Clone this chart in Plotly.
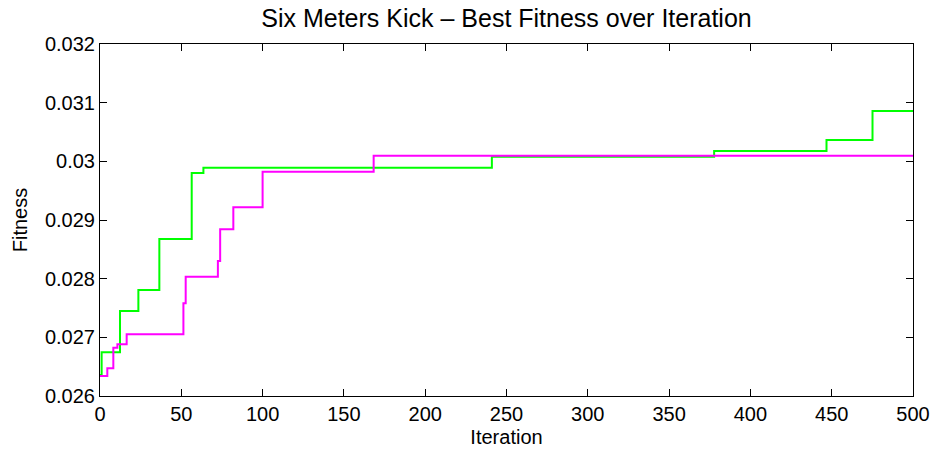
import plotly.graph_objects as go

# Data
green_iter = [0, 1, 12.3, 23.6, 36.5, 56.4, 63.6, 241, 377.7, 446.8, 475.1, 500]
green_fit = [0.02636, 0.026745, 0.027449, 0.027807, 0.028676, 0.029801, 0.02989,
             0.03008, 0.030175, 0.030363, 0.030857, 0.030857]

magenta_iter = [0, 4.5, 8.2, 10.7, 16.4, 51.3, 52.7, 72.5, 73.9, 82, 100, 168.3, 500]
magenta_fit = [0.026341, 0.026472, 0.026824, 0.026881, 0.027051, 0.02758, 0.028034,
               0.0283, 0.028841, 0.029216, 0.029823, 0.030096, 0.030096]

x_ticks = [0, 50, 100, 150, 200, 250, 300, 350, 400, 450, 500]
y_ticks = [0.026, 0.027, 0.028, 0.029, 0.03, 0.031, 0.032]
y_ticktext = ["0.026", "0.027", "0.028", "0.029", "0.03", "0.031", "0.032"]

font = "Liberation Sans, Arial, Helvetica, sans-serif"

fig = go.Figure()
fig.add_trace(go.Scatter(x=green_iter, y=green_fit, mode="lines", line_shape="hv",
                         line=dict(color="#00ff00", width=2), showlegend=False))
fig.add_trace(go.Scatter(x=magenta_iter, y=magenta_fit, mode="lines", line_shape="hv",
                         line=dict(color="#ff00ff", width=2), showlegend=False))

axis_common = dict(showline=True, linecolor="black", linewidth=1, mirror="ticks",
                   ticks="inside", ticklen=7, tickcolor="black", showgrid=False,
                   zeroline=False, ticklabeloverflow="allow",
                   tickfont=dict(family=font, size=20, color="black"))

W, H = 935, 454
fig.update_layout(
    width=W, height=H,
    margin=dict(l=100, r=22, t=44, b=58, autoexpand=False),
    paper_bgcolor="white", plot_bgcolor="white",
    title=dict(text="Six Meters Kick \u2013 Best Fitness over Iteration", x=0.5, xref="paper",
               xanchor="center", y=1 - 18.5 / H, yref="container", yanchor="middle",
               font=dict(family=font, size=25, color="black")),
    xaxis=dict(range=[0, 500], tickvals=x_ticks,
               title=dict(text="Iteration", font=dict(family=font, size=20, color="black"), standoff=5),
               **axis_common),
    yaxis=dict(range=[0.026, 0.032], tickvals=y_ticks, ticktext=y_ticktext,
               title=dict(text="Fitness", font=dict(family=font, size=20, color="black"), standoff=11),
               **axis_common),
)

# remove the default page margin so the figure fills the window exactly
fig.write_html("out.html", config={"displayModeBar": False},
               post_script="document.body.style.margin='0';document.body.style.overflow='hidden';")
